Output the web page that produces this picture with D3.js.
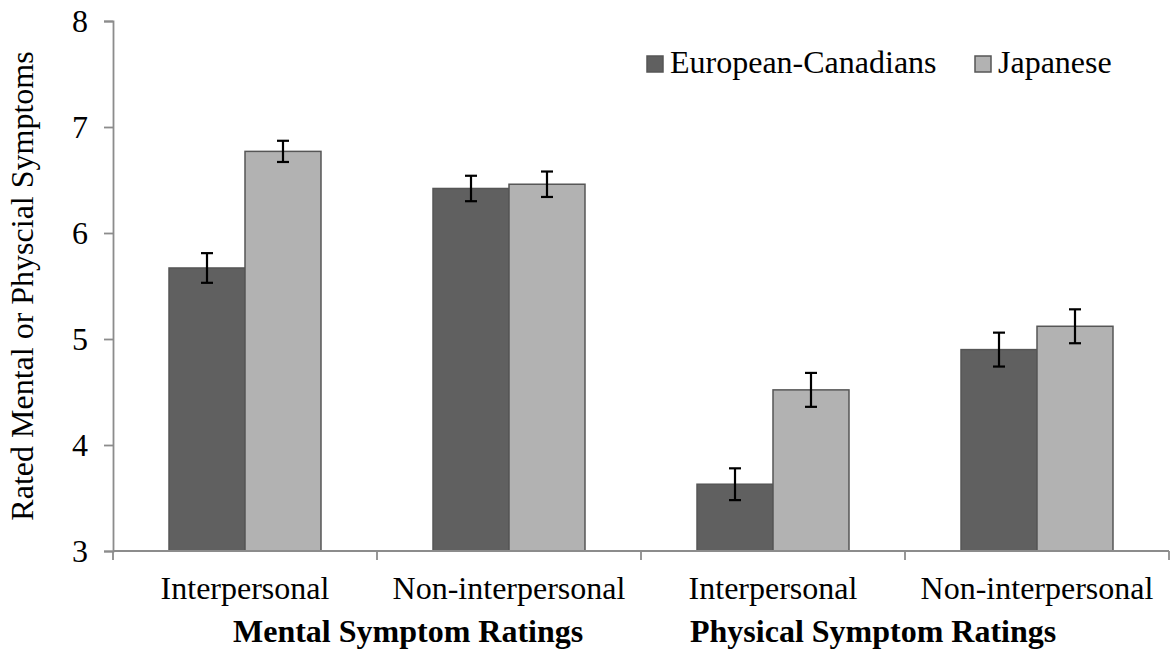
<!DOCTYPE html>
<html>
<head>
<meta charset="utf-8">
<script src="https://cdn.jsdelivr.net/npm/d3@7"></script>
<style>
  html, body { margin: 0; padding: 0; background: #fff; }
  svg { display: block; }
</style>
</head>
<body>
<svg id="chart" width="1170" height="653"></svg>
<script>
const categories = ["Interpersonal", "Non-interpersonal", "Interpersonal", "Non-interpersonal"];
const categoryKeys = ["m-int", "m-non", "p-int", "p-non"];
const groupTitles = ["Mental Symptom Ratings", "Physical Symptom Ratings"];
const seriesNames = ["European-Canadians", "Japanese"];
const euroCanadians = [5.67, 6.42, 3.63, 4.90];
const japanese = [6.77, 6.46, 4.52, 5.12];
const euroErr = [0.14, 0.12, 0.15, 0.16];
const japErr = [0.10, 0.12, 0.16, 0.16];
const yTicks = [3, 4, 5, 6, 7, 8];
const yLabel = "Rated Mental or Physcial Symptoms";
const colors = ["#606060", "#b2b2b2"];

(function () {
const FONT = "'Liberation Serif', 'Times New Roman', Times, serif";
const svg = d3.select("#chart").attr("font-family", FONT);
const mLeft = 113, mRight = 1169, mTop = 21, mBottom = 551;
const fs = 32;

const x = d3.scaleBand().domain(categoryKeys).range([mLeft, mRight]).paddingInner(0).paddingOuter(0);
const xs = d3.scaleBand().domain(seriesNames).range([0, x.bandwidth()]).paddingInner(0).paddingOuter(0.737);
const y = d3.scaleLinear().domain([3, 8]).range([mBottom, mTop]);

const data = categoryKeys.map((k, i) => ({
  key: k,
  vals: [
    { s: seriesNames[0], v: euroCanadians[i], e: euroErr[i], c: colors[0] },
    { s: seriesNames[1], v: japanese[i], e: japErr[i], c: colors[1] }
  ]
}));

// bars
const g = svg.append("g");
const groups = g.selectAll("g.grp").data(data).join("g")
  .attr("transform", d => `translate(${x(d.key)},0)`);
groups.selectAll("rect").data(d => d.vals).join("rect")
  .attr("x", d => xs(d.s))
  .attr("width", xs.bandwidth())
  .attr("y", d => y(d.v))
  .attr("height", d => y(3) - y(d.v))
  .attr("fill", d => d.c)
  .attr("stroke", "#565656")
  .attr("stroke-width", 1.5);

// error bars
const cap = 6;
groups.selectAll("g.err").data(d => d.vals).join("g").attr("class", "err")
  .each(function(d) {
    const cx = xs(d.s) + xs.bandwidth() / 2;
    const e = d3.select(this);
    e.append("line").attr("x1", cx).attr("x2", cx).attr("y1", y(d.v + d.e)).attr("y2", y(d.v - d.e));
    e.append("line").attr("x1", cx - cap).attr("x2", cx + cap).attr("y1", y(d.v + d.e)).attr("y2", y(d.v + d.e));
    e.append("line").attr("x1", cx - cap).attr("x2", cx + cap).attr("y1", y(d.v - d.e)).attr("y2", y(d.v - d.e));
  })
  .selectAll("line").attr("stroke", "#000").attr("stroke-width", 2.2);

// y axis
const yAxis = d3.axisLeft(y).tickValues(yTicks).tickSize(9).tickPadding(16).tickFormat(d3.format("d"));
const ya = svg.append("g").attr("transform", `translate(${mLeft},0)`).call(yAxis)
  .attr("font-family", FONT).attr("font-size", fs);
ya.select(".domain").attr("stroke", "#8c8c8c").attr("stroke-width", 1.8);
ya.selectAll(".tick line").attr("stroke", "#8c8c8c").attr("stroke-width", 1.8);
ya.selectAll(".tick text").attr("font-size", fs).attr("font-family", FONT).attr("fill", "#000").attr("dy", "0.34em");

// x axis line with boundary ticks
const boundaries = categoryKeys.map(k => x(k)).concat([x.range()[1]]);
const xa = svg.append("g");
xa.append("line").attr("x1", mLeft).attr("x2", mRight).attr("y1", mBottom).attr("y2", mBottom)
  .attr("stroke", "#8c8c8c").attr("stroke-width", 1.8);
xa.selectAll("line.bt").data(boundaries).join("line").attr("class", "bt")
  .attr("x1", d => d).attr("x2", d => d).attr("y1", mBottom).attr("y2", mBottom + 9)
  .attr("stroke", "#8c8c8c").attr("stroke-width", 1.8);

// category labels
svg.selectAll("text.cat").data(categoryKeys).join("text").attr("class", "cat")
  .attr("x", d => x(d) + x.bandwidth() / 2)
  .attr("y", 599)
  .attr("text-anchor", "middle")
  .attr("font-family", FONT)
  .attr("font-size", fs)
  .text((d, i) => categories[i]);

// group titles
const titleX = [x("m-int") + 120, x("p-int") + 49];
svg.selectAll("text.gt").data(groupTitles).join("text").attr("class", "gt")
  .attr("x", (d, i) => titleX[i])
  .attr("y", 642)
  .attr("text-anchor", "start")
  .attr("font-family", FONT)
  .attr("font-size", fs)
  .attr("font-weight", "bold")
  .text(d => d);

// y label
svg.append("text")
  .attr("transform", `translate(33,${y(5.5)}) rotate(-90)`)
  .attr("text-anchor", "middle")
  .attr("font-family", FONT)
  .attr("font-size", fs)
  .text(yLabel);

// legend
const legX = [647, 975];
const leg = svg.append("g");
seriesNames.forEach((s, i) => {
  leg.append("rect").attr("x", legX[i]).attr("y", 56).attr("width", 16).attr("height", 16)
    .attr("fill", colors[i]).attr("stroke", "#565656").attr("stroke-width", 1.5);
  leg.append("text").attr("x", legX[i] + 23).attr("y", 73)
    .attr("font-family", FONT).attr("font-size", fs).text(s);
});
})();
</script>
</body>
</html>
